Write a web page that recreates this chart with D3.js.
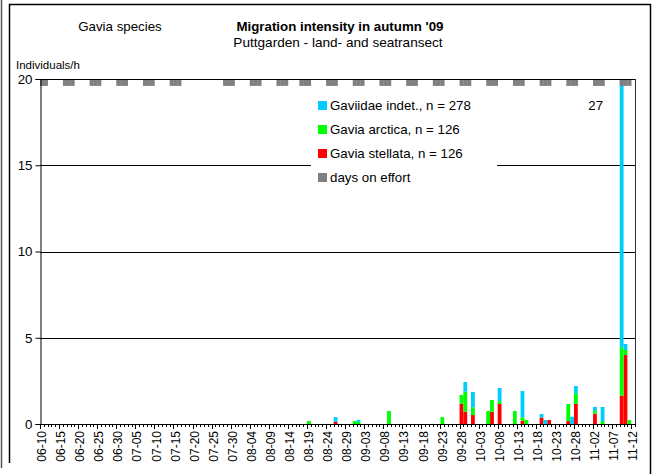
<!DOCTYPE html>
<html>
<head>
<meta charset="utf-8">
<script src="https://cdn.jsdelivr.net/npm/d3@7"></script>
<style>
  body { margin: 0; background: #fff; }
  svg { display: block; font-family: "Liberation Sans", Arial, sans-serif; }
</style>
</head>
<body>
<svg id="chart" width="658" height="474"></svg>
<script>
// daily categories 2009-06-10 .. 2009-11-12
const firstDay = "2009-06-10";
const lastDay = "2009-11-12";
const tickEvery = 5;

// individuals per hour, by date (MM-DD)
const stellata = [
  ["08-26", 0.12], ["09-28", 1.18], ["09-29", 0.71], ["10-01", 0.52], ["10-06", 0.71],
  ["10-08", 1.16], ["10-14", 0.19], ["10-19", 0.37], ["10-21", 0.23], ["10-26", 0.17],
  ["10-28", 1.16], ["11-02", 0.6], ["11-09", 1.64], ["11-10", 4.0]
];
const arctica = [
  ["08-19", 0.17], ["08-31", 0.17], ["09-01", 0.12], ["09-09", 0.75], ["09-23", 0.4],
  ["09-28", 0.5], ["09-29", 1.16], ["10-01", 0.45], ["10-05", 0.75], ["10-06", 0.68],
  ["10-08", 0.17], ["10-12", 0.75], ["10-14", 0.2], ["10-15", 0.23], ["10-26", 0.99],
  ["10-28", 0.62], ["11-02", 0.15], ["11-04", 0.17], ["11-09", 2.81], ["11-10", 0.29],
  ["11-11", 0.23]
];
const indet = [
  ["08-26", 0.28], ["09-01", 0.12], ["09-29", 0.56], ["10-01", 0.89], ["10-08", 0.76],
  ["10-14", 1.52], ["10-19", 0.21], ["10-20", 0.23], ["10-27", 0.42], ["10-28", 0.42],
  ["11-02", 0.24], ["11-04", 0.82], ["11-09", 22.55], ["11-10", 0.35]
];
const effortDays = [
  "06-10", "06-11", "06-16", "06-17", "06-18", "06-23", "06-24", "06-25",
  "06-30", "07-01", "07-02", "07-07", "07-08", "07-09", "07-14", "07-15", "07-16",
  "07-28", "07-29", "07-30", "08-04", "08-05", "08-06", "08-11", "08-12", "08-13",
  "08-17", "08-18", "08-19", "08-24", "08-25", "08-26", "08-31", "09-01", "09-02",
  "09-07", "09-08", "09-09", "09-14", "09-15", "09-16", "09-21", "09-22", "09-23",
  "09-28", "09-29", "09-30", "10-05", "10-06", "10-07", "10-12", "10-13", "10-14",
  "10-19", "10-20", "10-21", "10-26", "10-27", "10-28", "11-02", "11-03", "11-04",
  "11-09", "11-10", "11-11"
];
const yTicks = [0, 5, 10, 15, 20];
const peakLabel = { date: "11-09", text: "27" };

const legendItems = [
  { label: "Gaviidae indet., n = 278", color: "#00CCFF" },
  { label: "Gavia arctica, n = 126", color: "#00FF00" },
  { label: "Gavia stellata, n = 126", color: "#FF0000" },
  { label: "days on effort", color: "#808080" }
];
const seriesColor = { stellata: "#FF0000", arctica: "#00FF00", indet: "#00CCFF" };

const fmt = d3.timeFormat("%m-%d");
const parse = d3.timeParse("%Y-%m-%d");
const days = d3.timeDay.range(parse(firstDay), d3.timeDay.offset(parse(lastDay), 1)).map(fmt);

const table = days.map(d => ({
  date: d,
  stellata: (stellata.find(v => v[0] === d) || [d, 0])[1],
  arctica: (arctica.find(v => v[0] === d) || [d, 0])[1],
  indet: (indet.find(v => v[0] === d) || [d, 0])[1]
}));

const svg = d3.select("#chart");
const plot = { left: 40, right: 635, top: 79, bottom: 424 };

const x = d3.scaleBand().domain(days).range([plot.left, plot.right]).padding(0);
const y = d3.scaleLinear().domain([0, 20]).range([plot.bottom, plot.top]);

// outer frames
svg.append("line").attr("x1", 1.5).attr("x2", 1.5).attr("y1", 0).attr("y2", 468)
  .attr("stroke", "#555").attr("stroke-width", 1.5);
svg.append("path").attr("d", "M9.5,463 V4.5 H650.5 V474")
  .attr("fill", "none").attr("stroke", "#000").attr("stroke-width", 1.5);

// titles
svg.append("text").attr("x", 120).attr("y", 31).attr("text-anchor", "middle")
  .attr("font-size", 13.3).text("Gavia species");
svg.append("text").attr("x", 340).attr("y", 31).attr("text-anchor", "middle")
  .attr("font-size", 13.3).attr("font-weight", "bold").text("Migration intensity in autumn '09");
svg.append("text").attr("x", 338).attr("y", 47).attr("text-anchor", "middle")
  .attr("font-size", 13.6).text("Puttgarden - land- and seatransect");
svg.append("text").attr("x", 16).attr("y", 69).attr("font-size", 11.5).text("Individuals/h");

// gridlines
svg.append("g").selectAll("line").data(yTicks.filter(t => t > 0)).join("line")
  .attr("x1", plot.left).attr("x2", plot.right)
  .attr("y1", d => Math.round(y(d)) + 0.5).attr("y2", d => Math.round(y(d)) + 0.5)
  .attr("stroke", "#000");
svg.append("line").attr("x1", plot.right + 0.5).attr("x2", plot.right + 0.5)
  .attr("y1", plot.top).attr("y2", plot.bottom).attr("stroke", "#333");

// stacked bars
svg.append("clipPath").attr("id", "clip").append("rect")
  .attr("x", plot.left).attr("y", plot.top).attr("width", plot.right - plot.left)
  .attr("height", plot.bottom - plot.top);
const stack = d3.stack().keys(["stellata", "arctica", "indet"])(table);
svg.append("g").attr("clip-path", "url(#clip)")
  .selectAll("g").data(stack).join("g").attr("fill", s => seriesColor[s.key])
  .selectAll("rect").data(s => s.filter(d => d[1] > d[0])).join("rect")
  .attr("x", d => x(d.data.date))
  .attr("width", x.bandwidth())
  .attr("y", d => y(d[1]))
  .attr("height", d => y(d[0]) - y(d[1]));

// days on effort markers at the top
svg.append("g").selectAll("rect").data(effortDays).join("rect")
  .attr("x", d => x(d)).attr("width", x.bandwidth() + 0.3)
  .attr("y", y(20)).attr("height", y(19.6) - y(20))
  .attr("fill", "#808080");

// peak value label
svg.append("text").attr("x", x(peakLabel.date) - 24).attr("y", 110)
  .attr("text-anchor", "middle").attr("font-size", 13.3).text(peakLabel.text);

// y axis
const yAxis = svg.append("g").attr("transform", `translate(${plot.left + 0.5},0)`)
  .call(d3.axisLeft(y).tickValues(yTicks).tickSize(5).tickPadding(3));
yAxis.select(".domain").attr("stroke", "#000");
yAxis.selectAll("text").attr("font-size", 13.3).attr("font-family", "Liberation Sans, Arial, sans-serif").attr("fill", "#000");
svg.append("line").attr("x1", plot.left).attr("x2", plot.right).attr("y1", plot.top + 0.5).attr("y2", plot.top + 0.5)
  .attr("stroke", "#000");

// x axis
const xAxisG = svg.append("g");
xAxisG.append("line").attr("x1", plot.left).attr("x2", plot.right + 1)
  .attr("y1", plot.bottom + 0.5).attr("y2", plot.bottom + 0.5).attr("stroke", "#000");
xAxisG.selectAll("line.tick").data(d3.range(days.length + 1)).join("line")
  .attr("class", "tick")
  .attr("x1", i => Math.round(plot.left + i * x.step()) + 0.5)
  .attr("x2", i => Math.round(plot.left + i * x.step()) + 0.5)
  .attr("y1", plot.bottom).attr("y2", i => plot.bottom + (i % tickEvery === 0 ? 5 : 3))
  .attr("stroke", "#000");
xAxisG.selectAll("text").data(days.filter((d, i) => i % tickEvery === 0)).join("text")
  .attr("transform", d => `translate(${x(d) + x.bandwidth() / 2},431) rotate(-90)`)
  .attr("text-anchor", "end").attr("dy", "0.35em").attr("font-size", 12)
  .text(d => d);

// legend
const legend = svg.append("g");
legend.append("rect").attr("x", 311).attr("y", 90).attr("width", 186).attr("height", 102).attr("fill", "#fff");
const li = legend.selectAll("g").data(legendItems).join("g")
  .attr("transform", (d, i) => `translate(318,${101 + i * 24})`);
li.append("rect").attr("width", 9).attr("height", 9).attr("fill", d => d.color);
li.append("text").attr("x", 12).attr("y", 9).attr("font-size", 13.3).text(d => d.label);
</script>
</body>
</html>
